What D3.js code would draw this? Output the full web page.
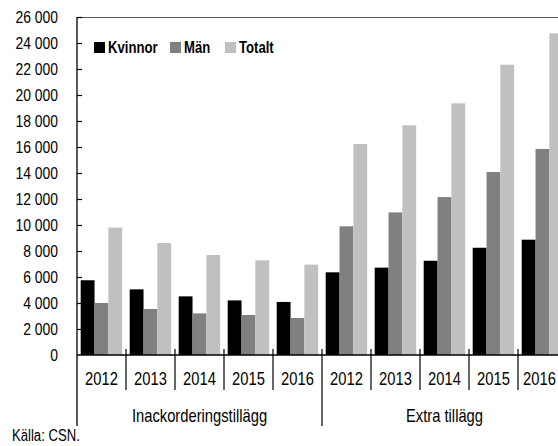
<!DOCTYPE html>
<html><head><meta charset="utf-8">
<script src="https://cdn.jsdelivr.net/npm/d3@7"></script>
<style>
html,body{margin:0;padding:0;background:#fff;}
svg{display:block;font-family:"Liberation Sans Narrow","Liberation Sans",Arial,sans-serif;}
</style></head>
<body><svg id="c" width="558" height="446"></svg>
<script>
const groups = ["Inackorderingstillägg", "Extra tillägg"];
const years = ["2012", "2013", "2014", "2015", "2016"];
const seriesNames = ["Kvinnor", "Män", "Totalt"];
const seriesColors = ["#000000", "#808080", "#c0c0c0"];
const kvinnor = [5750, 5050, 4510, 4200, 4080, 6360, 6720, 7250, 8250, 8870];
const man = [4000, 3540, 3200, 3080, 2850, 9900, 10970, 12150, 14080, 15850];
const totalt = [9800, 8610, 7690, 7280, 6950, 16230, 17670, 19360, 22330, 24740];
const yTicks = [0, 2000, 4000, 6000, 8000, 10000, 12000, 14000, 16000, 18000, 20000, 22000, 24000, 26000];
const source = "Källa: CSN.";

const NARROW = 0.82;
const FONT = '"Liberation Sans",Arial,sans-serif';
const svg = d3.select("#c");
function ntext(parent, x, y, txt, size, anchor, weight) {
  return parent.append("text")
    .attr("transform", `translate(${x},${y}) scale(${NARROW},1)`)
    .attr("font-family", FONT)
    .attr("font-size", size)
    .attr("font-weight", weight || "normal")
    .attr("text-anchor", anchor || "start")
    .attr("fill", "#000")
    .text(txt);
}

const cats = [];
groups.forEach(g => years.forEach(y => cats.push(g + "|" + y)));
const values = [kvinnor, man, totalt];

const x = d3.scaleBand().domain(cats).range([77, 567]).padding(0);
const bw = x.bandwidth();
const x1 = d3.scaleBand().domain(seriesNames).range([3.7, bw - 3.8]).padding(0);
const y = d3.scaleLinear().domain([0, 26000]).range([355, 17]);

// bars
seriesNames.forEach((s, si) => {
  svg.append("g").selectAll("rect").data(cats).join("rect")
    .attr("x", c => x(c) + x1(s))
    .attr("y", (c, i) => y(values[si][i]))
    .attr("width", x1.bandwidth())
    .attr("height", (c, i) => y(0) - y(values[si][i]))
    .attr("fill", seriesColors[si]);
});

// top frame line
svg.append("line").attr("x1", 77).attr("x2", 567).attr("y1", 17.5).attr("y2", 17.5)
  .attr("stroke", "#555").attr("stroke-width", 1.2);

// y axis ticks (d3 axis for lines), labels narrow
const yAxis = d3.axisLeft(y).tickValues(yTicks).tickSize(-5).tickFormat("");
const ga = svg.append("g").attr("transform", "translate(77,0)").call(yAxis);
ga.select(".domain").remove();
ga.selectAll(".tick line").attr("stroke", "#000").attr("stroke-width", 1.2);
ga.selectAll(".tick").filter(d => d === 0).select("line").remove();
const fmt = d => d3.format(",")(d).replace(/,/g, " ");
yTicks.forEach(t => {
  ntext(svg, 58, y(t) + 6, fmt(t), 17, "end");
});

// left axis line
svg.append("line").attr("x1", 77).attr("x2", 77).attr("y1", 17).attr("y2", 426)
  .attr("stroke", "#000").attr("stroke-width", 1.3);
// baseline
svg.append("line").attr("x1", 77).attr("x2", 567).attr("y1", 355).attr("y2", 355)
  .attr("stroke", "#000").attr("stroke-width", 1.3);

// separators
const bounds = d3.range(1, cats.length + 1);
svg.append("g").selectAll("line").data(bounds).join("line")
  .attr("x1", i => 77 + i * bw).attr("x2", i => 77 + i * bw)
  .attr("y1", 349)
  .attr("y2", i => (i % years.length === 0) ? 426 : 390)
  .attr("stroke", "#000").attr("stroke-width", 1.2);

// year labels
cats.forEach((c, i) => {
  let cx = x(c) + bw / 2;
  if (i === cats.length - 1) cx = Math.min(cx, 539.5);
  ntext(svg, cx, 385, c.split("|")[1], 18, "middle");
});

// group labels
groups.forEach(g => {
  ntext(svg, x(g + "|" + years[0]) + (bw * years.length) / 2, 422, g, 18, "middle");
});

// legend
const legX = [94, 170, 225];
seriesNames.forEach((s, i) => {
  svg.append("rect").attr("x", legX[i]).attr("y", 42).attr("width", 11).attr("height", 11)
    .attr("fill", seriesColors[i]);
  ntext(svg, legX[i] + 14, 53, s, 16, "start", "bold");
});

// source
ntext(svg, 12, 441, source, 16, "start");
</script></body></html>
